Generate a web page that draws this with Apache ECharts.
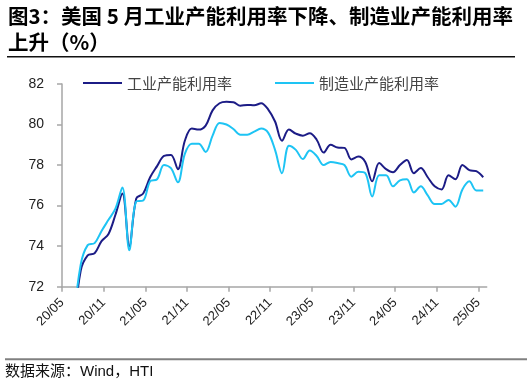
<!DOCTYPE html>
<html>
<head>
<meta charset="utf-8">
<script src="https://cdn.jsdelivr.net/npm/echarts@6/dist/echarts.min.js"></script>
<style>html,body{margin:0;padding:0;background:#fff}#c{width:532px;height:386px}</style>
</head>
<body>
<div id="c"></div>
<script>
// Months 2020-05 .. 2025-05
const months = ['2020-05','2020-06','2020-07','2020-08','2020-09','2020-10','2020-11','2020-12',
'2021-01','2021-02','2021-03','2021-04','2021-05','2021-06','2021-07','2021-08','2021-09','2021-10','2021-11','2021-12',
'2022-01','2022-02','2022-03','2022-04','2022-05','2022-06','2022-07','2022-08','2022-09','2022-10','2022-11','2022-12',
'2023-01','2023-02','2023-03','2023-04','2023-05','2023-06','2023-07','2023-08','2023-09','2023-10','2023-11','2023-12',
'2024-01','2024-02','2024-03','2024-04','2024-05','2024-06','2024-07','2024-08','2024-09','2024-10','2024-11','2024-12',
'2025-01','2025-02','2025-03','2025-04','2025-05'];

// 工业产能利用率
const industry = [65.5,70.0,72.8,73.55,73.65,74.25,74.6,75.55,
76.6,74.0,76.35,76.6,77.4,77.95,78.45,78.5,77.8,79.2,79.8,79.75,
79.95,80.7,81.05,81.12,81.1,80.93,80.97,80.95,81.05,80.75,80.15,79.2,
79.75,79.55,79.45,79.57,79.25,78.62,79.0,78.87,78.85,78.28,78.42,78.15,
77.2,78.1,77.8,77.65,78.0,78.25,77.6,77.85,77.4,76.95,76.8,77.5,
77.3,78.0,77.75,77.7,77.4];

// 制造业产能利用率
const manufacturing = [65.0,70.3,73.1,74.05,74.15,74.75,75.3,75.85,
76.9,73.8,76.2,76.25,77.2,77.3,78.0,77.85,77.15,78.55,79.05,79.05,
78.65,79.45,80.08,80.0,79.78,79.5,79.5,79.65,79.8,79.6,78.75,77.6,
78.95,78.75,78.3,78.72,78.45,78.0,78.15,78.1,78.0,77.43,77.67,77.6,
76.45,77.5,77.5,76.95,77.25,77.3,76.65,76.95,76.5,76.08,76.08,76.28,
75.95,76.8,77.2,76.75,76.75];

const yTicks = [72,74,76,78,80,82];
const xTickMonths = ['2020-05','2020-11','2021-05','2021-11','2022-05','2022-11','2023-05','2023-11','2024-05','2024-11','2025-05'];

const seriesNames = ['工业产能利用率','制造业产能利用率'];
const titleText = '图3：美国 5 月工业产能利用率下降、制造业产能利用率\n上升（%）';
const sourceText = '数据来源：Wind，HTI';

// month index scale (0 = start of 2020-05); points sit late in each month
const POS = 0.7;
const idxOf = s => months.indexOf(s);
const toPts = arr => arr.map((v, i) => [i + POS, v]);
const fmtX = v => {
  const k = Math.round(v);
  const y = 2020 + Math.floor((4 + k) / 12);
  const m = (4 + k) % 12 + 1;
  return String(y).slice(2) + '/' + String(m).padStart(2, '0');
};
const xTickVals = xTickMonths.map(idxOf);

const chart = echarts.init(document.getElementById('c'), null, {renderer: 'canvas'});
const cjk = 'Noto Sans CJK SC';
const num = 'Liberation Sans';

chart.setOption({
  animation: false,
  backgroundColor: '#fff',
  title: {
    text: titleText,
    left: 8, top: 3, padding: 0,
    textStyle: {fontFamily: cjk, fontSize: 20.5, fontWeight: 'bold', color: '#000', lineHeight: 26}
  },
  legend: [
    {data: [seriesNames[0]], left: 83, top: 75, padding: 0, icon: 'rect', itemWidth: 39, itemHeight: 2,
     textStyle: {fontFamily: cjk, fontSize: 15, color: '#444', lineHeight: 16}},
    {data: [seriesNames[1]], left: 275, top: 75, padding: 0, icon: 'rect', itemWidth: 39, itemHeight: 2,
     textStyle: {fontFamily: cjk, fontSize: 15, color: '#444', lineHeight: 16}}
  ],
  grid: {left: 62, right: 45.3, top: 84, bottom: 99.3, containLabel: false},
  xAxis: {
    type: 'value', min: 0, max: 61.2,
    splitLine: {show: false},
    axisLine: {show: true, lineStyle: {color: '#a6a6a6', width: 1.5}},
    axisTick: {show: true, length: 5, lineStyle: {color: '#a6a6a6', width: 1.5}, customValues: xTickVals},
    axisLabel: {customValues: xTickVals, formatter: fmtX, rotate: 45, margin: 14,
      fontFamily: num, fontSize: 13, color: '#222'}
  },
  yAxis: {
    type: 'value', min: yTicks[0], max: yTicks[yTicks.length - 1], interval: 2,
    splitLine: {show: false},
    axisLine: {show: true, lineStyle: {color: '#a6a6a6', width: 1.5}},
    axisTick: {show: true, length: 5, lineStyle: {color: '#a6a6a6', width: 1.5}},
    axisLabel: {margin: 18, fontFamily: num, fontSize: 14, color: '#222'}
  },
  series: [
    {name: seriesNames[0], type: 'line', data: toPts(industry), smooth: 0.35, symbol: 'none', clip: true,
     itemStyle: {color: '#1c1c86'}, lineStyle: {color: '#1c1c86', width: 2}},
    {name: seriesNames[1], type: 'line', data: toPts(manufacturing), smooth: 0.35, symbol: 'none', clip: true,
     itemStyle: {color: '#1ec4f4'}, lineStyle: {color: '#1ec4f4', width: 2}}
  ],
  graphic: [
    {type: 'line', shape: {x1: 7, y1: 56.7, x2: 515, y2: 56.7}, style: {stroke: '#111', lineWidth: 1.5}},
    {type: 'line', shape: {x1: 5, y1: 359.3, x2: 527, y2: 359.3}, style: {stroke: '#808080', lineWidth: 2}},
    {type: 'text', x: 5, y: 372, style: {text: sourceText, fontFamily: num + ',' + cjk, fontSize: 15,
      fill: '#111', verticalAlign: 'middle'}}
  ]
});
</script>
</body>
</html>
